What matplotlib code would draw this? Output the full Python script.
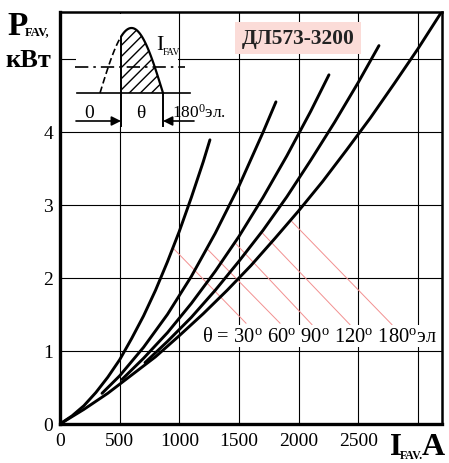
import numpy as np
import matplotlib
matplotlib.use("Agg")
import matplotlib.pyplot as plt
from matplotlib.patches import Rectangle

plt.rcParams['font.family'] = ['Liberation Serif', 'DejaVu Serif']
plt.rcParams['mathtext.fontset'] = 'custom'
plt.rcParams['mathtext.rm'] = 'Liberation Serif'
plt.rcParams['mathtext.it'] = 'Liberation Serif:italic'
plt.rcParams['mathtext.bf'] = 'Liberation Serif:bold'

# ---- data (I in A, P in kW) ----
i_30 = [0, 100, 200, 300, 400, 500, 600, 700, 800, 900, 1000, 1100, 1200, 1256]
p_30 = [0, 0.11, 0.25, 0.43, 0.64, 0.88, 1.17, 1.48, 1.83, 2.22, 2.64, 3.10, 3.59, 3.89]

i_60 = [352, 500, 700, 900, 1100, 1300, 1500, 1700, 1809]
p_60 = [0.42, 0.66, 1.05, 1.50, 2.02, 2.61, 3.26, 3.99, 4.41]

i_90 = [519, 700, 900, 1100, 1300, 1500, 1700, 1900, 2100, 2253]
p_90 = [0.61, 0.90, 1.25, 1.65, 2.09, 2.57, 3.10, 3.67, 4.28, 4.78]

i_120 = [712, 900, 1100, 1300, 1500, 1700, 1900, 2100, 2300, 2500, 2672]
p_120 = [0.84, 1.13, 1.46, 1.83, 2.23, 2.65, 3.11, 3.61, 4.13, 4.68, 5.18]

i_180 = [0, 200, 400, 600, 800, 1000, 1200, 1400, 1600, 1800, 2000, 2200,
         2400, 2600, 2800, 3000, 3200]
p_180 = [0, 0.20, 0.42, 0.67, 0.92, 1.21, 1.51, 1.83, 2.17, 2.54, 2.92, 3.32,
         3.75, 4.19, 4.66, 5.14, 5.65]

curves = [(i_30, p_30), (i_60, p_60), (i_90, p_90), (i_120, p_120), (i_180, p_180)]

# leader lines: point on curve -> end above the label
lead_start_i = [946, 1231, 1466, 1692, 1943]
lead_start_p = [2.41, 2.40, 2.48, 2.62, 2.77]
lead_end_i = [1558, 1843, 2111, 2429, 2781]
lead_end_p = [1.38, 1.38, 1.36, 1.36, 1.36]

x_ticks = [0, 500, 1000, 1500, 2000, 2500]
y_ticks = [0, 1, 2, 3, 4]

W, H = 449, 464
fig = plt.figure(figsize=(W / 100, H / 100), dpi=100)


def fx(x):
    return x / W


def fy(y):
    return 1 - y / H


ax = fig.add_axes([fx(60), fy(425), fx(442) - fx(60), fy(13) - fy(425)])
ax.set_xlim(0, 3200)
ax.set_ylim(0, 5.64)

for x in [500, 1000, 1500, 2000, 2500, 3000]:
    ax.axvline(x, color='black', lw=0.8, zorder=1)
for y in [1, 2, 3, 4, 5]:
    ax.axhline(y, color='black', lw=0.8, zorder=1)

for ii, pp in curves:
    ax.plot(ii, pp, color='black', lw=2.1, solid_capstyle='round', zorder=3)

for k in range(len(lead_start_i)):
    ax.plot([lead_start_i[k], lead_end_i[k]], [lead_start_p[k], lead_end_p[k]],
            color='#f29090', lw=0.7, zorder=2)

ax.set_xticks(x_ticks)
ax.set_yticks(y_ticks)
ax.tick_params(length=0, labelsize=14, pad=6)
ax.tick_params(axis='y', pad=5)
for s in ax.spines.values():
    s.set_linewidth(1.8)
ax.spines['bottom'].set_linewidth(2.4)
ax.spines['left'].set_linewidth(2.4)

ax.text(3160, 1.2, "θ = 30$^{\\rm o}$ 60$^{\\rm o}$ 90$^{\\rm o}$ 120$^{\\rm o}$ 180$^{\\rm o}$эл",
        ha='right', va='center', fontsize=14.8, zorder=4,
        bbox=dict(facecolor='white', edgecolor='none', pad=1.0))

# ---- overlay in pixel coordinates for the sketch and labels ----
ov = fig.add_axes([0, 0, 1, 1])
ov.set_xlim(0, W)
ov.set_ylim(H, 0)
ov.axis('off')
ov.patch.set_alpha(0)

ov.add_patch(Rectangle((76, 15), 102, 112, facecolor='white', edgecolor='none'))

# half sine pulse
xs = np.linspace(100, 163, 80)
ys = 94 - 65 * np.sin((xs - 100) / 63 * np.pi)
m = xs >= 121
ov.plot(xs[~m], ys[~m], color='black', lw=1.2, ls=(0, (4, 2)))
ov.plot(xs[m], ys[m], color='black', lw=1.6)
ov.fill_between(xs[m], ys[m], 94, facecolor='none', edgecolor='black',
                hatch='///', lw=0)
ov.plot([77, 190], [94, 94], color='black', lw=1.2)
ov.plot([75, 185], [68, 68], color='black', lw=1.2, ls=(0, (8, 3, 1.5, 3)))
y_top = 94 - 65 * np.sin(21 / 63 * np.pi)
ov.plot([121, 121], [y_top, 127], color='black', lw=1.4)
ov.plot([163, 163], [94, 127], color='black', lw=1.4)
ov.annotate('', xy=(121, 122), xytext=(76, 122),
            arrowprops=dict(arrowstyle='-|>', color='black', lw=1.2,
                            mutation_scale=14, shrinkA=0, shrinkB=0))
ov.annotate('', xy=(163, 122), xytext=(194, 122),
            arrowprops=dict(arrowstyle='-|>', color='black', lw=1.2,
                            mutation_scale=14, shrinkA=0, shrinkB=0))
ov.text(89, 118, "0", ha='center', va='baseline', fontsize=14)
ov.text(141, 118, "θ", ha='center', va='baseline', fontsize=14)
ov.text(172, 118, "180$^{\\rm 0}$эл.", ha='left', va='baseline', fontsize=12.5)
ov.text(156, 50, "I", ha='left', va='baseline', fontsize=16)
ov.text(163, 55, "FAV", ha='left', va='baseline', fontsize=7)

# device name
ov.text(298, 44, "ДЛ573-3200", ha='center', va='baseline', fontsize=15.5,
        fontweight='bold', color='#222222',
        bbox=dict(boxstyle='square,pad=0.3', facecolor='#fbdcd8', edgecolor='none'))

# axis labels
ov.text(7, 35, "P", ha='left', va='baseline', fontsize=24, fontweight='bold')
ov.text(25, 35, "FAV,", ha='left', va='baseline', fontsize=9, fontweight='bold')
ov.text(5, 67, "кВт", ha='left', va='baseline', fontsize=19, fontweight='bold')
ov.text(390, 455, "I", ha='left', va='baseline', fontsize=22, fontweight='bold')
ov.text(400, 459, "FAV.", ha='left', va='baseline', fontsize=8.5, fontweight='bold')
ov.text(422, 455, "A", ha='left', va='baseline', fontsize=23, fontweight='bold')

fig.savefig("out.png", dpi=100)
